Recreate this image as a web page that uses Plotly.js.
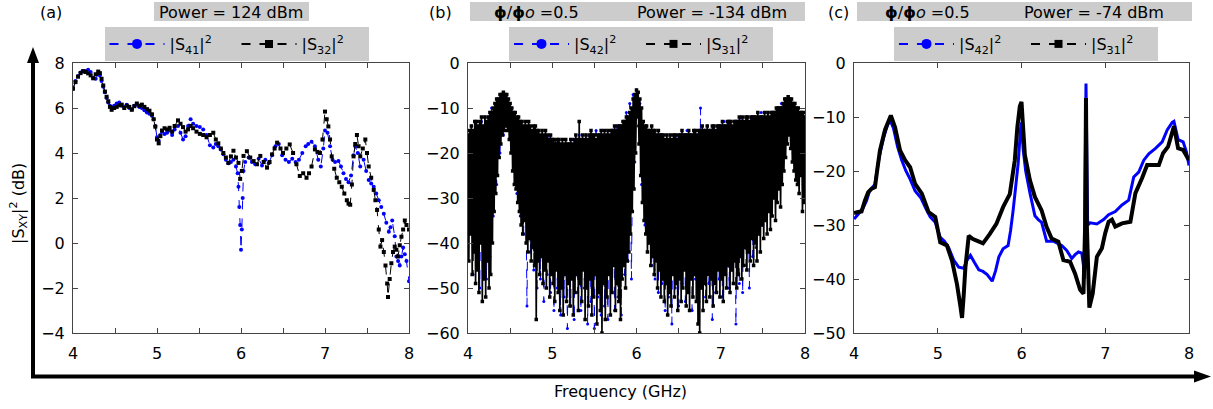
<!DOCTYPE html>
<html><head><meta charset="utf-8">
<script src="https://cdn.plot.ly/plotly-3.0.1.min.js"></script>
<style>html,body{margin:0;padding:0;background:#fff}#chart{width:1213px;height:409px}</style>
</head><body><div id="chart"></div>
<script>
// ---------------- Panel (a): Power = 124 dBm ----------------
const aFreqS32 = [4.00,4.03,4.06,4.09,4.12,4.15,4.18,4.21,4.24,4.27,4.30,4.32,4.34,4.36,4.38,4.40,4.42,4.44,4.46,4.49,4.52,4.55,4.58,4.61,4.64,4.67,4.70,4.73,4.76,4.79,4.82,4.85,4.88,4.91,4.94,4.96,4.98,5.00,5.02,5.04,5.06,5.09,5.12,5.15,5.18,5.21,5.25,5.28,5.31,5.34,5.37,5.40,5.43,5.47,5.51,5.55,5.59,5.63,5.67,5.70,5.73,5.76,5.79,5.82,5.85,5.88,5.91,5.94,5.97,5.99,6.01,6.03,6.07,6.11,6.15,6.19,6.23,6.27,6.31,6.34,6.37,6.40,6.43,6.47,6.50,6.54,6.58,6.62,6.66,6.70,6.74,6.78,6.81,6.84,6.88,6.91,6.94,6.97,7.00,7.02,7.04,7.06,7.08,7.11,7.14,7.17,7.20,7.23,7.26,7.28,7.30,7.32,7.34,7.36,7.38,7.40,7.42,7.45,7.48,7.50,7.52,7.55,7.58,7.60,7.62,7.64,7.66,7.68,7.70,7.72,7.74,7.75,7.77,7.79,7.81,7.83,7.85,7.87,7.89,7.91,7.93,7.95,7.97,8.00];
const aS32 = [6.87,7.15,7.39,7.55,7.64,7.60,7.54,7.45,7.32,7.50,7.62,7.55,7.30,7.00,6.73,6.50,6.30,6.05,5.92,6.00,6.05,6.12,6.15,6.00,6.10,6.05,5.92,6.08,6.20,6.10,6.15,6.05,5.95,5.88,5.72,5.50,5.17,4.60,4.43,4.75,5.00,5.10,5.05,5.12,4.95,5.20,5.45,5.30,5.15,4.95,5.05,5.20,5.10,4.95,4.85,4.80,4.70,4.80,4.90,4.60,4.43,4.20,4.00,3.80,3.56,3.85,4.10,3.80,3.56,2.85,3.20,3.87,4.08,3.80,3.64,3.50,3.87,3.60,3.35,3.60,3.94,4.20,4.46,4.20,4.00,4.20,4.38,4.00,3.50,2.98,3.10,2.90,3.10,3.40,4.16,4.05,4.00,4.60,5.84,5.50,5.18,4.60,3.85,3.30,2.90,2.70,2.50,2.20,1.90,1.75,1.70,2.60,3.85,4.40,4.80,4.30,3.85,4.20,4.60,4.00,3.40,2.90,2.36,1.90,1.47,0.60,-0.16,0.13,-0.40,-1.00,-1.80,-2.40,-1.60,-0.90,-0.40,-0.16,-0.30,-0.60,-0.10,0.28,0.60,1.00,0.80,0.60];
const aFreqS41 = [4.00,4.03,4.06,4.09,4.12,4.15,4.18,4.21,4.24,4.27,4.30,4.32,4.34,4.36,4.38,4.40,4.42,4.44,4.46,4.49,4.52,4.55,4.58,4.61,4.64,4.67,4.70,4.73,4.76,4.79,4.82,4.85,4.88,4.91,4.94,4.96,4.98,5.00,5.02,5.04,5.06,5.09,5.12,5.15,5.18,5.21,5.25,5.28,5.31,5.34,5.37,5.40,5.43,5.47,5.51,5.55,5.59,5.63,5.67,5.70,5.73,5.76,5.79,5.82,5.85,5.88,5.91,5.94,5.96,5.97,5.98,5.99,6.00,6.01,6.02,6.03,6.05,6.09,6.13,6.17,6.21,6.25,6.29,6.33,6.37,6.41,6.45,6.49,6.53,6.57,6.61,6.65,6.69,6.73,6.77,6.80,6.84,6.88,6.92,6.95,6.98,7.00,7.03,7.06,7.09,7.12,7.16,7.19,7.22,7.25,7.28,7.31,7.34,7.36,7.39,7.42,7.46,7.49,7.52,7.55,7.58,7.61,7.64,7.67,7.70,7.73,7.76,7.78,7.80,7.83,7.85,7.87,7.89,7.91,7.93,7.95,7.97,8.00];
const aS41 = [6.85,7.20,7.42,7.58,7.62,7.65,7.70,7.60,7.35,7.30,7.50,7.45,7.20,6.95,6.70,6.45,6.25,6.10,6.05,6.10,6.20,6.25,6.10,6.05,6.15,6.00,5.95,6.10,6.15,6.05,6.00,5.90,5.80,5.75,5.65,5.50,5.20,4.70,4.55,4.80,4.95,4.85,4.90,5.00,4.80,5.05,5.20,4.90,4.60,4.75,5.20,5.50,5.30,5.20,5.15,5.05,4.80,4.35,4.25,4.40,4.30,4.15,3.95,3.70,3.55,3.60,3.70,3.40,3.10,2.50,1.60,0.80,-0.30,0.60,2.00,3.20,3.60,3.80,3.60,3.50,3.75,3.45,3.70,3.55,3.90,4.30,4.40,3.90,3.70,3.60,3.75,3.60,3.70,4.00,4.30,4.40,4.50,4.30,3.70,3.40,4.20,5.00,4.90,4.30,3.70,3.60,3.65,3.40,3.10,2.85,2.70,3.00,3.90,4.30,4.00,3.40,3.70,3.20,2.80,2.65,2.50,2.20,1.90,1.60,1.30,0.90,0.50,0.70,1.00,0.30,-0.60,-0.80,-1.00,-0.60,-0.20,-0.50,-0.80,-1.70];

// ---------------- Panel (b): phi/phi0 = 0.5, Power = -134 dBm ----------------
// measured on a uniform frequency sweep from 4 to 8 GHz
const bSweepStart = 4, bSweepStop = 8;
const bS31 = [
-16,-44,-15,-38,-14,-47,-15,-42,-13,-49, -13,-46,-14,-51,-13,-40,-12,-53,-14,-48,
-12,-52,-13,-44,-12,-50,-11,-47,-11,-40, -10,-33,-9,-29,-8,-25,-8,-21,-7,-18,
-7,-16,-6.5,-15,-7,-14,-7,-15,-8,-17, -9,-20,-10,-24,-11,-27,-11,-28,-12,-31,
-12,-33,-13,-36,-13,-38,-14,-35,-13,-40, -14,-42,-13,-39,-14,-44,-15,-41,-14,-45,
-14,-57,-15,-44,-15,-47,-16,-43,-15,-49, -16,-46,-15,-50,-16,-44,-17,-52,-16,-47,
-17,-49,-17,-53,-18,-46,-17,-51,-17,-55, -18,-50,-17,-56,-18,-47,-17,-53,-18,-49,
-18,-54,-17,-48,-18,-56,-17,-51,-16,-47, -17,-55,-13,-49,-17,-53,-16,-46,-17,-57,
-16,-50,-17,-54,-16,-48,-15,-56,-16,-52, -16,-47,-17,-58,-16,-51,-16,-55,-15,-60,
-16,-49,-15,-57,-16,-52,-15,-47,-16,-56, -15,-51,-15,-45,-14,-55,-15,-49,-14,-53,
-14,-57,-14,-48,-13,-45,-13,-50,-12,-44, -12,-42,-11,-38,-10,-33,-8,-28,-7,-20,
-6,-12,-6.5,-18,-8,-25,-10,-31,-13,-35, -14,-38,-14,-42,-15,-40,-15,-45,-14,-43,
-15,-47,-15,-44,-16,-50,-15,-46,-16,-52, -16,-48,-16,-53,-17,-49,-16,-56,-17,-51,
-16,-54,-17,-47,-16,-52,-16,-49,-17,-55, -16,-48,-16,-53,-15,-50,-16,-46,-16,-54,
-16,-51,-15,-55,-16,-48,-16,-52,-15,-47, -15,-53,-16,-58,-15,-60,-15,-50,-14,-55,
-15,-49,-15,-53,-14,-47,-15,-52,-15,-48, -14,-54,-14,-49,-15,-51,-14,-46,-14,-52,
-14,-48,-13,-53,-14,-47,-14,-50,-13,-45, -13,-51,-13,-46,-14,-49,-13,-44,-13,-50,
-13,-47,-12,-43,-13,-48,-12,-45,-13,-41, -12,-46,-12,-42,-13,-44,-12,-39,-12,-45,
-12,-40,-12,-44,-11,-38,-12,-42,-12,-36, -12,-39,-11,-35,-12,-38,-11,-33,-12,-37,
-11,-34,-11,-30,-11,-35,-10,-31,-10,-28, -10,-32,-10,-27,-9,-24,-8,-21,-8,-18,
-7.5,-16,-8,-19,-8,-22,-9,-24,-9,-26, -10,-27,-10,-29,-11,-25,-11,-33,-11,-31,
-12];
const bS42 = [
-16,-33,-14,-47,-13,-45,-14,-50,-13,-44, -12,-48,-12,-43,-10,-34,-9,-27,-8,-20,
-7,-16,-7,-14,-8,-17,-10,-23,-11,-29, -12,-34,-13,-38,-14,-54,-14,-42,-15,-46,
-15,-50,-15,-48,-16,-53,-16,-47,-16,-51, -17,-55,-17,-50,-18,-56,-17,-52,-18,-59,
-18,-54,-17,-57,-17,-51,-16,-55,-17,-50, -16,-58,-16,-53,-16,-59,-15,-52,-16,-56,
-15,-54,-16,-57,-15,-50,-15,-55,-14,-52, -14,-56,-13,-47,-11,-44,-9,-48,-7,-22,
-6,-14,-9,-27,-13,-36,-14,-40,-15,-45, -15,-48,-16,-51,-16,-49,-17,-55,-16,-52,
-16,-58,-16,-50,-16,-54,-16,-49,-16,-53, -15,-51,-16,-55,-15,-48,-15,-53,-10,-50,
-15,-52,-14,-49,-15,-57,-14,-51,-14,-48, -14,-52,-13,-47,-14,-50,-13,-46,-13,-58,
-13,-49,-12,-51,-13,-45,-12,-50,-12,-43, -12,-41,-12,-38,-11,-36,-12,-34,-11,-32,
-11,-30,-11,-28,-10,-27,-9,-22,-8,-17, -8,-15,-9,-20,-10,-22,-11,-25,-11,-27,
-12];

// ---------------- Panel (c): phi/phi0 = 0.5, Power = -74 dBm ----------------
const cFreqS42 = [4.00,4.05,4.11,4.15,4.19,4.25,4.30,4.35,4.40,4.43,4.47,4.52,4.57,4.62,4.67,4.73,4.80,4.86,4.91,4.97,5.03,5.08,5.13,5.19,5.25,5.31,5.35,5.39,5.44,5.49,5.54,5.59,5.65,5.69,5.73,5.78,5.84,5.87,5.90,5.93,5.96,5.99,6.00,6.02,6.05,6.10,6.16,6.20,6.24,6.30,6.38,6.48,6.54,6.60,6.64,6.68,6.72,6.74,6.75,6.77,6.79,6.82,6.90,6.98,7.04,7.12,7.20,7.28,7.34,7.40,7.46,7.52,7.60,7.68,7.74,7.80,7.82,7.87,7.93,7.97,8.00];
const cS42 = [-28.9,-28.0,-26.8,-25.5,-23.5,-22.5,-17.5,-14.0,-11.5,-10.6,-12.0,-15.5,-18.0,-20.0,-21.5,-23.7,-25.0,-27.0,-28.5,-29.5,-32.3,-33.0,-34.2,-36.5,-37.8,-38.0,-36.5,-35.6,-37.0,-38.3,-38.6,-39.2,-40.4,-38.5,-35.9,-34.4,-33.8,-31.0,-27.3,-23.0,-18.6,-12.0,-11.0,-16.0,-20.0,-24.0,-28.3,-29.0,-29.5,-33.0,-33.0,-33.8,-34.7,-36.2,-35.5,-35.0,-35.2,-37.5,-40.0,-3.8,-30.0,-29.6,-29.8,-29.0,-28.1,-27.5,-26.3,-25.4,-21.1,-20.2,-18.0,-16.8,-15.8,-14.6,-12.4,-11.0,-10.8,-14.2,-14.6,-16.5,-19.0];
const cFreqS31 = [4.00,4.05,4.09,4.13,4.17,4.21,4.25,4.28,4.31,4.37,4.44,4.49,4.55,4.61,4.67,4.73,4.81,4.89,4.97,5.03,5.11,5.17,5.23,5.27,5.29,5.31,5.33,5.37,5.42,5.48,5.54,5.62,5.70,5.78,5.86,5.92,5.95,5.98,6.00,6.04,6.10,6.16,6.24,6.30,6.36,6.44,6.50,6.58,6.64,6.70,6.74,6.76,6.77,6.78,6.81,6.85,6.90,6.96,7.00,7.04,7.08,7.12,7.20,7.30,7.36,7.44,7.50,7.64,7.69,7.75,7.82,7.87,7.93,8.00];
const cS31 = [-27.8,-27.6,-27.5,-25.5,-23.9,-23.3,-23.0,-19.5,-16.2,-12.4,-9.7,-11.9,-16.2,-18.0,-19.3,-22.4,-24.2,-27.6,-28.5,-33.2,-33.8,-36.6,-41.0,-45.0,-47.2,-43.0,-37.9,-32.0,-32.6,-33.0,-33.4,-31.7,-29.8,-26.7,-24.3,-18.0,-12.0,-8.0,-7.2,-17.0,-21.7,-24.8,-27.3,-30.4,-32.5,-33.1,-36.5,-36.8,-39.0,-42.0,-42.7,-30.0,-6.5,-30.0,-45.3,-42.7,-35.9,-34.3,-31.5,-29.4,-29.0,-30.3,-29.7,-29.4,-24.1,-21.3,-18.9,-18.9,-16.7,-15.5,-11.7,-15.8,-16.1,-18.0];

// ---------------- labels ----------------
const xTickVals = [4,5,6,7,8];
const legA = ['|S<sub>41</sub>|<sup>2</sup>','|S<sub>32</sub>|<sup>2</sup>'];
const legBC = ['|S<sub>42</sub>|<sup>2</sup>','|S<sub>31</sub>|<sup>2</sup>'];
const headerA = 'Power = 124 dBm';
const headerB = 'Power = -134 dBm';
const headerC = 'Power = -74 dBm';
const fluxText = '<b>ϕ</b>/<b>ϕ</b><i>o</i> =0.5';

// ---------------- drawing ----------------
const W = 1213, H = 409;
const px = v => v / W, py = v => 1 - v / H;
const FONT = 'DejaVu Sans, Liberation Sans, sans-serif';
const BLUE = '#0000ff', BLACK = '#000000', GRAY = '#cccccc';

function sweep(vals){ const n = vals.length; return vals.map((_, i) => bSweepStart + i*(bSweepStop-bSweepStart)/(n-1)); }

const traces = [];
// panel a
traces.push({x:aFreqS41, y:aS41, xaxis:'x', yaxis:'y', mode:'lines+markers', showlegend:false,
  line:{color:BLUE, width:1, dash:'dash', simplify:false}, marker:{color:BLUE, size:4, symbol:'circle'}});
traces.push({x:aFreqS32, y:aS32, xaxis:'x', yaxis:'y', mode:'lines+markers', showlegend:false,
  line:{color:BLACK, width:1, dash:'dash', simplify:false}, marker:{color:BLACK, size:4, symbol:'square'}});
// panel b
traces.push({x:sweep(bS42), y:bS42, xaxis:'x2', yaxis:'y2', mode:'lines+markers', showlegend:false,
  line:{color:BLUE, width:1, dash:'dash', simplify:false}, marker:{color:BLUE, size:3, symbol:'circle'}});
traces.push({x:sweep(bS31), y:bS31, xaxis:'x2', yaxis:'y2', mode:'lines+markers', showlegend:false,
  line:{color:BLACK, width:1.7, simplify:false}, marker:{color:BLACK, size:3.5, symbol:'square'}});
// panel c
traces.push({x:cFreqS42, y:cS42, xaxis:'x3', yaxis:'y3', mode:'lines', showlegend:false,
  line:{color:BLUE, width:3, simplify:false}});
traces.push({x:cFreqS31, y:cS31, xaxis:'x3', yaxis:'y3', mode:'lines', showlegend:false,
  line:{color:BLACK, width:4, simplify:false}});

// legend entries
function legEntry(name, color, sym, xa, ya, leg){
  return {x:[null], y:[null], xaxis:xa, yaxis:ya, mode:'lines+markers', name:name, legend:leg,
    line:{color:color, width:2, dash:'dash'}, marker:{color:color, size:sym==='circle'?10:8, symbol:sym}};
}
traces.push(legEntry(legA[0], BLUE, 'circle', 'x', 'y', 'legend'));
traces.push(legEntry(legA[1], BLACK, 'square', 'x', 'y', 'legend'));
traces.push(legEntry(legBC[0], BLUE, 'circle', 'x2', 'y2', 'legend2'));
traces.push(legEntry(legBC[1], BLACK, 'square', 'x2', 'y2', 'legend2'));
traces.push(legEntry(legBC[0], BLUE, 'circle', 'x3', 'y3', 'legend3'));
traces.push(legEntry(legBC[1], BLACK, 'square', 'x3', 'y3', 'legend3'));

const tickFont = {family:FONT, size:16, color:'#000'};
function xAx(d0, d1, anchor, minor){
  const ax = {domain:[px(d0), px(d1)], anchor:anchor, range:[4,8], tickmode:'array', tickvals:xTickVals,
    ticks:'inside', ticklen:5, tickcolor:'#444', showline:true, linecolor:'#444', linewidth:1, mirror:'ticks',
    showgrid:false, zeroline:false, tickfont:tickFont, ticklabelstandoff:6, fixedrange:true};
  if (minor) ax.minor = {dtick:0.5, tick0:4, ticks:'inside', ticklen:5, tickcolor:'#444', showgrid:false};
  return ax;
}
function yAx(anchor, r, dt){
  return {domain:[py(333), py(63)], anchor:anchor, range:r, tickmode:'linear', tick0:r[0], dtick:dt,
    ticks:'inside', ticklen:5, tickcolor:'#444', showline:true, linecolor:'#444', linewidth:1, mirror:'ticks',
    showgrid:false, zeroline:false, tickfont:tickFont, ticklabelstandoff:4, fixedrange:true};
}
function legendCfg(cx){
  return {x:px(cx), y:py(27), xanchor:'center', yanchor:'top', orientation:'h', bgcolor:GRAY,
    borderwidth:0, font:{family:FONT, size:16, color:'#000'}, itemwidth:55, entrywidth:62, entrywidthmode:'pixels',
    itemclick:false, itemdoubleclick:false};
}
function txt(text, x, y, extra){
  return Object.assign({text:text, x:px(x), y:py(y), xref:'paper', yref:'paper', showarrow:false,
    xanchor:'center', yanchor:'middle', font:{family:FONT, size:16, color:'#000'}}, extra||{});
}
function rect(x0, y0, x1, y1){
  return {type:'rect', xref:'paper', yref:'paper', x0:px(x0), x1:px(x1), y0:py(y1), y1:py(y0),
    fillcolor:GRAY, line:{width:0}, layer:'below'};
}
const layout = {
  width:W, height:H, margin:{l:0, r:0, t:0, b:0}, paper_bgcolor:'#fff', plot_bgcolor:'#fff',
  font:{family:FONT, color:'#000'}, showlegend:true,
  xaxis:xAx(73, 409, 'y', true), yaxis:yAx('x', [-4,8], 2),
  xaxis2:xAx(468, 805, 'y2', true), yaxis2:yAx('x2', [-60,0], 10),
  xaxis3:xAx(854, 1189, 'y3', false), yaxis3:yAx('x3', [-50,0], 10),
  legend:legendCfg(236.5), legend2:legendCfg(641), legend3:legendCfg(1026),
  shapes:[
    rect(154, 2, 309, 21), rect(470, 2, 805, 21), rect(857, 2, 1192, 21),
    {type:'line', xref:'paper', yref:'paper', x0:px(33), x1:px(33), y0:py(378), y1:py(60), line:{color:'#000', width:4}},
    {type:'path', xref:'paper', yref:'paper', path:`M ${px(27)} ${py(63)} L ${px(39)} ${py(63)} L ${px(33)} ${py(47)} Z`, fillcolor:'#000', line:{width:0}},
    {type:'line', xref:'paper', yref:'paper', x0:px(31), x1:px(1196), y0:py(376.5), y1:py(376.5), line:{color:'#000', width:4}},
    {type:'path', xref:'paper', yref:'paper', path:`M ${px(1194)} ${py(370.5)} L ${px(1194)} ${py(382.5)} L ${px(1211)} ${py(376.5)} Z`, fillcolor:'#000', line:{width:0}}
  ],
  annotations:[
    txt('(a)', 51, 12), txt('(b)', 440, 12), txt('(c)', 838, 12),
    txt(headerA, 231, 12), txt(fluxText, 536, 12), txt(headerB, 712, 12),
    txt(fluxText, 927, 12), txt(headerC, 1094, 12),
    txt('|S<sub>XY</sub>|<sup>2</sup> (dB)', 18, 204, {textangle:-90}),
    txt('Frequency (GHz)', 620, 391)
  ]
};
Plotly.newPlot('chart', traces, layout, {staticPlot:true, displayModeBar:false});
</script></body></html>
